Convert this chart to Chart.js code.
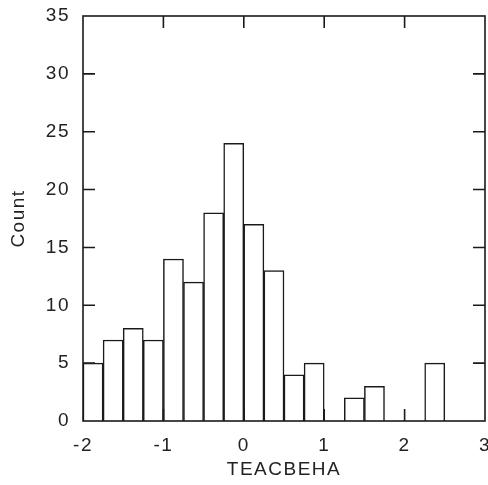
<!DOCTYPE html>
<html>
<head>
<meta charset="utf-8">
<script src="https://cdn.jsdelivr.net/npm/chart.js@4"></script>
<style>
  html, body { margin: 0; padding: 0; background: #fff; }
  #wrap { width: 488px; height: 485px; }
</style>
</head>
<body>
<div id="wrap"><canvas id="histChart" width="488" height="485"></canvas></div>
<script>
// --- data ---
const binCenters = [-1.875, -1.625, -1.375, -1.125, -0.875, -0.625, -0.375, -0.125,
                    0.125, 0.375, 0.625, 0.875, 1.125, 1.375, 1.625, 1.875, 2.125, 2.375];
const counts = [5, 7, 8, 7, 14, 12, 18, 24, 17, 13, 4, 5, 0, 2, 3, 0, 0, 5];
const xTicks = [-2, -1, 0, 1, 2, 3];
const yTicks = [0, 5, 10, 15, 20, 25, 30, 35];
const xTitle = 'TEACBEHA';
const yTitle = 'Count';

const ink = '#1a1a1a';
const fontFamily = '"Liberation Sans", Arial, sans-serif';

// frame + inward ticks on all four sides
const framePlugin = {
  id: 'frame',
  beforeDraw(chart) {
    // the scanned labels are a bit spread out
    chart.ctx.letterSpacing = '1.5px';
  },
  afterDraw(chart) {
    const { ctx, chartArea: a, scales: { x, y } } = chart;
    const len = 12;
    ctx.save();
    ctx.strokeStyle = ink;
    ctx.lineWidth = 1.6;
    ctx.strokeRect(a.left, a.top, a.right - a.left, a.bottom - a.top);
    ctx.beginPath();
    xTicks.slice(1, -1).forEach(v => {
      const px = x.getPixelForValue(v);
      ctx.moveTo(px, a.bottom); ctx.lineTo(px, a.bottom - len);
      ctx.moveTo(px, a.top); ctx.lineTo(px, a.top + len);
    });
    yTicks.slice(1, -1).forEach(v => {
      const py = y.getPixelForValue(v);
      ctx.moveTo(a.left, py); ctx.lineTo(a.left + len, py);
      ctx.moveTo(a.right, py); ctx.lineTo(a.right - len, py);
    });
    ctx.stroke();
    ctx.restore();
  }
};

new Chart(document.getElementById('histChart'), {
  type: 'bar',
  data: {
    datasets: [{
      data: binCenters.map((c, i) => ({ x: c, y: counts[i] })),
      backgroundColor: '#ffffff',
      borderColor: ink,
      borderWidth: 1.5,
      barPercentage: 1,
      categoryPercentage: 1
    }]
  },
  options: {
    responsive: false,
    animation: false,
    layout: { padding: { left: 0, right: 3, top: 16, bottom: 0 } },
    plugins: { legend: { display: false }, tooltip: { enabled: false } },
    scales: {
      x: {
        type: 'linear',
        min: -2, max: 3,
        offset: false,
        afterBuildTicks: s => { s.ticks = xTicks.map(v => ({ value: v })); },
        afterFit: s => { s.height = 64; s.paddingLeft = 0; s.paddingRight = 0; },
        grid: { display: false },
        border: { display: false },
        ticks: { color: '#222', padding: 5, font: { family: fontFamily, size: 19 } },
        title: { display: true, text: xTitle, color: '#222', padding: { top: 4 },
                 font: { family: fontFamily, size: 19 } }
      },
      y: {
        min: 0, max: 35,
        afterBuildTicks: s => { s.ticks = yTicks.map(v => ({ value: v })); },
        afterFit: s => { s.width = 83; s.paddingTop = 0; s.paddingBottom = 0; },
        grid: { display: false },
        border: { display: false },
        ticks: { color: '#222', padding: 5, font: { family: fontFamily, size: 19 } },
        title: { display: true, text: yTitle, color: '#222', padding: { top: 7 },
                 font: { family: fontFamily, size: 19 } }
      }
    }
  },
  plugins: [framePlugin]
});
</script>
</body>
</html>
